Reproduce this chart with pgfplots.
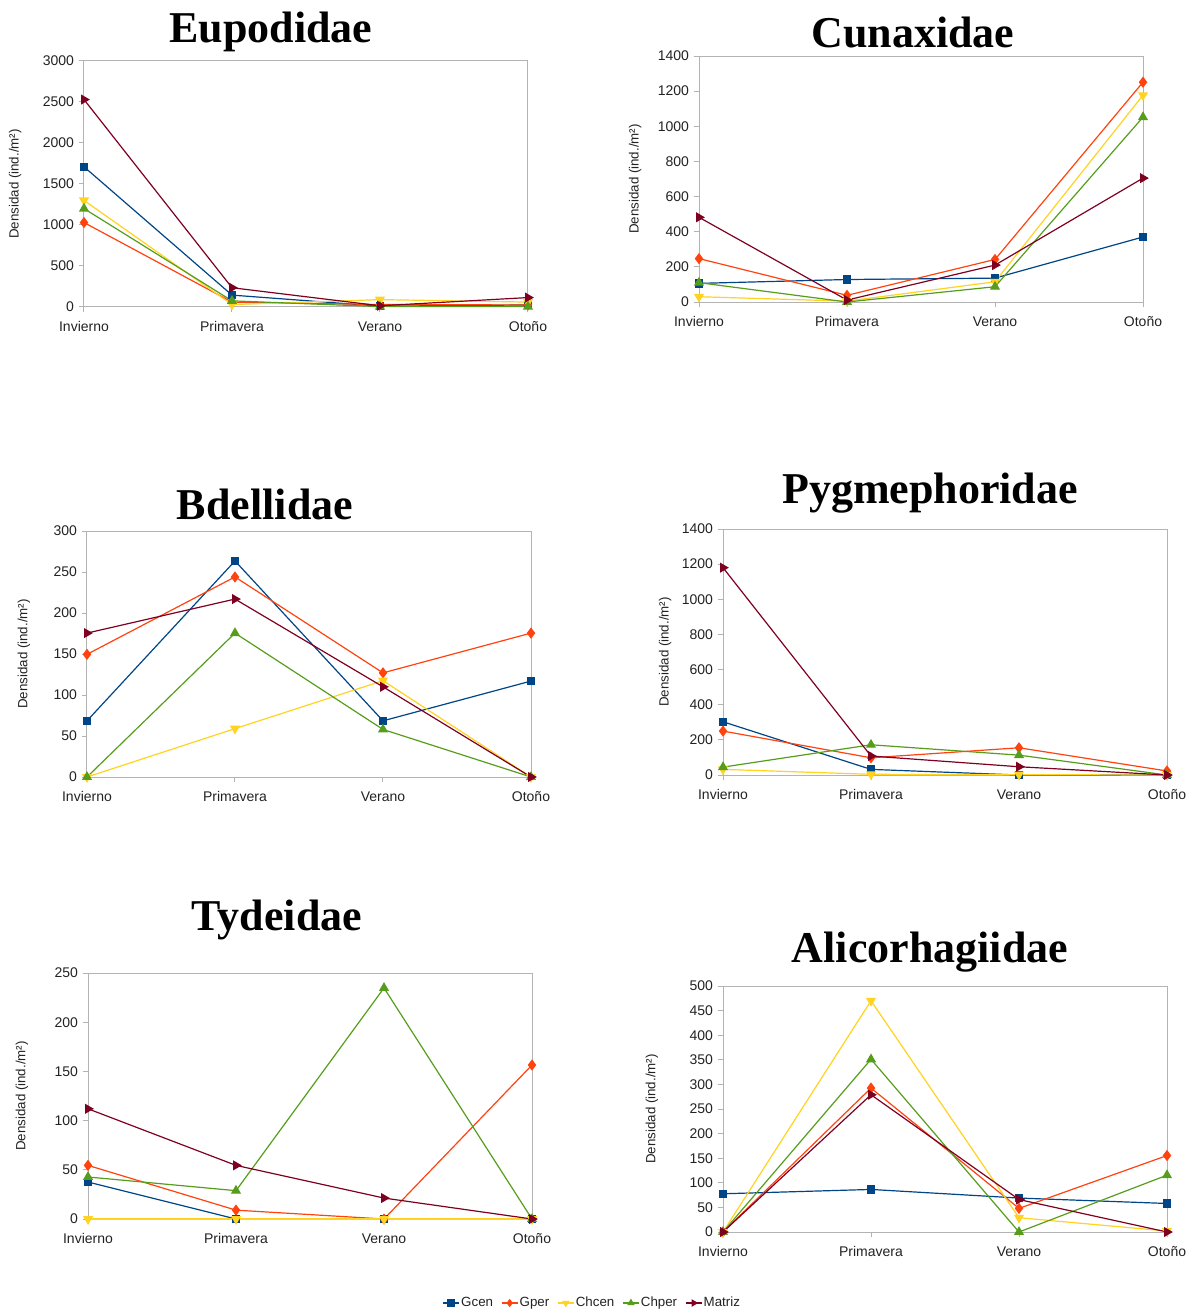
\documentclass[border=0pt]{standalone}
\usepackage{fontspec}
\setmainfont{Liberation Sans}
\newfontfamily\titlefont{Liberation Serif}
\usepackage{pgfplots}
\pgfplotsset{compat=1.18}

\definecolor{cGcen}{HTML}{004586}
\definecolor{cGper}{HTML}{FF420E}
\definecolor{cChcen}{HTML}{FFD320}
\definecolor{cChper}{HTML}{579D1C}
\definecolor{cMatriz}{HTML}{7E0021}
\definecolor{axisgray}{HTML}{B3B3B3}
\definecolor{txt}{HTML}{222222}

% one drawing unit = 0.75pt
\def\u{0.75pt}

\pgfplotsset{
  panel/.style={
    scale only axis, width=333pt, height=184.5pt,
    anchor=north west,
    xmin=0, xmax=3, ymin=0,
    xtick={0,1,2,3}, xticklabels={Invierno,Primavera,Verano,Otoño},
    axis line style={axisgray, line width=0.75pt},
    tick style={axisgray, line width=0.75pt},
    tick align=outside, major tick length=4pt,
    tick pos=left,
    ticklabel style={font=\fontsize{10.5}{12}\selectfont, text=txt},
    xticklabel style={text height=8.5pt, text depth=2.5pt, yshift=-2.5pt},
    /pgf/number format/assume math mode=true,
    scaled y ticks=false,
    yticklabel style={/pgf/number format/1000 sep={}},
    ylabel={Densidad (ind./m²)},
    ylabel style={font=\fontsize{10}{12}\selectfont, text=txt, anchor=center},
    clip=false,
    every axis plot/.append style={line width=0.9pt},
  },
  ylabx/.style={ylabel style={at={(axis description cs:#1,0.5)}}},
  sGcen/.style={color=cGcen, mark=square*, mark size=2.7pt},
  sGper/.style={color=cGper, mark=diamond*, mark size=3.5pt},
  sChcen/.style={color=cChcen, mark=triangle*, mark size=3.5pt, mark options={rotate=180}},
  sChper/.style={color=cChper, mark=triangle*, mark size=3.5pt},
  sMatriz/.style={color=cMatriz, mark=triangle*, mark size=3.5pt, mark options={rotate=-90}},
}

\begin{document}
\begin{tikzpicture}
\useasboundingbox (0,0) rectangle ({1194*\u},{-1313*\u});

\tikzset{ttl/.style={font=\titlefont\bfseries\fontsize{33}{36}\selectfont, anchor=base, inner sep=0pt}}
\node[ttl] at ({271*\u},{-43*\u}) {Eupodidae};
\node[ttl] at ({913*\u},{-48*\u}) {Cunaxidae};
\node[ttl] at ({265*\u},{-519*\u}) {Bdellidae};
\node[ttl] at ({930*\u},{-503*\u}) {Pygmephoridae};
\node[ttl] at ({277*\u},{-930*\u}) {Tydeidae};
\node[ttl] at ({930*\u},{-962*\u}) {Alicorhagiidae};

% Eupodidae
\begin{axis}[panel, ylabx=-0.155, at={({84*\u},{-61*\u})},
  ymax=3000, ytick={0,500,...,3000}]
\addplot[sGcen] coordinates {(0,1710) (1,145) (2,10) (3,25)};
\addplot[sGper] coordinates {(0,1030) (1,60) (2,30) (3,25)};
\addplot[sChcen] coordinates {(0,1300) (1,30) (2,90) (3,60)};
\addplot[sChper] coordinates {(0,1200) (1,75) (2,5) (3,5)};
\addplot[sMatriz] coordinates {(0,2530) (1,235) (2,15) (3,115)};
\end{axis}

% Cunaxidae
\begin{axis}[panel, ylabx=-0.144, at={({699*\u},{-56*\u})},
  ymax=1400, ytick={0,200,...,1400}]
\addplot[sGcen] coordinates {(0,106) (1,128) (2,136) (3,370)};
\addplot[sGper] coordinates {(0,247) (1,38) (2,242) (3,1251)};
\addplot[sChcen] coordinates {(0,30) (1,5) (2,115) (3,1177)};
\addplot[sChper] coordinates {(0,110) (1,0) (2,87) (3,1052)};
\addplot[sMatriz] coordinates {(0,482) (1,11) (2,210) (3,705)};
\end{axis}

% Bdellidae
\begin{axis}[panel, ylabx=-0.142, at={({87*\u},{-531*\u})},
  ymax=300, ytick={0,50,...,300}]
\addplot[sGcen] coordinates {(0,68.5) (1,263.5) (2,68.5) (3,117)};
\addplot[sGper] coordinates {(0,149.6) (1,244) (2,127) (3,175.5)};
\addplot[sChcen] coordinates {(0,0) (1,59) (2,117.5) (3,0)};
\addplot[sChper] coordinates {(0,0) (1,175.5) (2,58) (3,0)};
\addplot[sMatriz] coordinates {(0,175.5) (1,217) (2,110) (3,0)};
\end{axis}

% Pygmephoridae
\begin{axis}[panel, ylabx=-0.13, at={({723*\u},{-529*\u})},
  ymax=1400, ytick={0,200,...,1400}]
\addplot[sGcen] coordinates {(0,303) (1,32) (2,0) (3,0)};
\addplot[sGper] coordinates {(0,250) (1,98) (2,155) (3,23)};
\addplot[sChcen] coordinates {(0,32) (1,4) (2,2) (3,0)};
\addplot[sChper] coordinates {(0,45) (1,172) (2,113) (3,0)};
\addplot[sMatriz] coordinates {(0,1180) (1,108) (2,47) (3,0)};
\end{axis}

% Tydeidae
\begin{axis}[panel, ylabx=-0.149, at={({88*\u},{-973*\u})},
  ymax=250, ytick={0,50,...,250}]
\addplot[sGcen] coordinates {(0,37.6) (1,0) (2,0) (3,0)};
\addplot[sGper] coordinates {(0,54.5) (1,9) (2,0) (3,156.5)};
\addplot[sChcen] coordinates {(0,0) (1,0) (2,0) (3,0)};
\addplot[sChper] coordinates {(0,42.7) (1,28.8) (2,234.8) (3,0)};
\addplot[sMatriz] coordinates {(0,112) (1,54.5) (2,21.3) (3,0)};
\end{axis}

% Alicorhagiidae, carrying the shared legend
\begin{axis}[panel, ylabx=-0.16, at={({723*\u},{-986*\u})},
  ymax=500, ytick={0,50,...,500},
  legend columns=5,
  legend style={at={(axis description cs:-0.295,-0.2886)}, anchor=center,
    draw=none, fill=none, inner sep=0pt,
    font=\fontsize{10}{12}\selectfont, text=txt,
    /tikz/every even column/.append style={column sep=5pt},
    nodes={inner xsep=1pt}},
  legend image code/.code={\draw[mark repeat=2, mark phase=2, mark size=2.4pt, line width=0.9pt, #1]
    plot coordinates {(0pt,0pt) (6pt,0pt) (12pt,0pt)};}]
\addplot[sGcen] coordinates {(0,77.7) (1,86.5) (2,69) (3,58)};
\addplot[sGper] coordinates {(0,0) (1,292.6) (2,48) (3,155.4)};
\addplot[sChcen] coordinates {(0,0) (1,470) (2,29) (3,2)};
\addplot[sChper] coordinates {(0,0) (1,351) (2,0) (3,115.5)};
\addplot[sMatriz] coordinates {(0,0) (1,279) (2,66) (3,0)};
\legend{Gcen,Gper,Chcen,Chper,Matriz}
\end{axis}
\end{tikzpicture}
\end{document}
